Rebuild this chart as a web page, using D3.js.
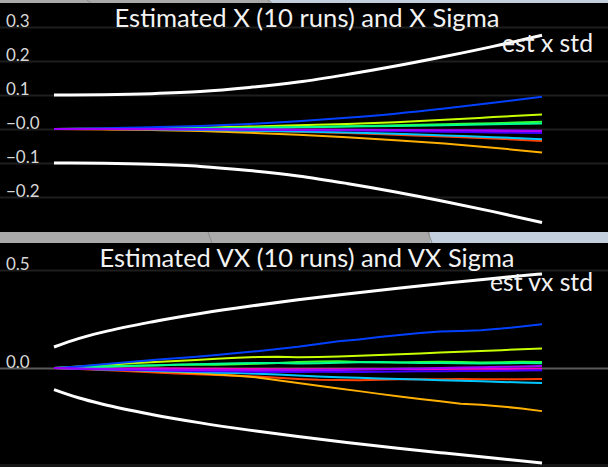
<!DOCTYPE html>
<html><head><meta charset="utf-8">
<script src="https://cdn.jsdelivr.net/npm/d3@7"></script>
<style>html,body{margin:0;padding:0;background:#000;overflow:hidden}</style>
</head><body>
<script>
// ---------- data ----------
const runNames = ["run1","run2","run3","run4","run5","run6","run7","run8","run9","run10"];
const runColors = ["#ff00c0","#ff4000","#ffb000","#c8ff00","#30ff30","#00ff90","#00c8ff","#0040ff","#4000ff","#a000ff"];

const topTimes = [0,1,2,3,4,5,6,7,8,9,10];
const topRuns = [
  [0,0,0,-0.001,-0.001,-0.002,-0.003,-0.004,-0.005,-0.007,-0.008],
  [0,-0.001,-0.002,-0.003,-0.005,-0.008,-0.012,-0.017,-0.022,-0.028,-0.035],
  [0,-0.001,-0.003,-0.006,-0.011,-0.017,-0.024,-0.033,-0.043,-0.055,-0.069],
  [0,0.001,0.002,0.004,0.007,0.011,0.015,0.020,0.027,0.035,0.043],
  [0,0.000,0.001,0.002,0.004,0.006,0.008,0.011,0.014,0.017,0.021],
  [0,0.000,0.001,0.002,0.003,0.005,0.007,0.009,0.011,0.014,0.016],
  [0,0,-0.001,-0.003,-0.005,-0.007,-0.010,-0.014,-0.019,-0.024,-0.030],
  [0,0.002,0.005,0.009,0.015,0.023,0.033,0.045,0.060,0.077,0.095],
  [0,0,-0.001,-0.001,-0.002,-0.003,-0.004,-0.006,-0.008,-0.010,-0.012],
  [0,0,0,-0.001,-0.001,-0.002,-0.002,-0.003,-0.004,-0.004,-0.005]
];
const topSigmaUpper = [0.100,0.101,0.104,0.110,0.122,0.138,0.160,0.185,0.213,0.243,0.276];
const topSigmaLower = [-0.100,-0.101,-0.104,-0.110,-0.122,-0.138,-0.160,-0.185,-0.213,-0.243,-0.275];
const topTicks = [0.3,0.2,0.1,0,-0.1,-0.2];
const topTickLabels = ["0.3","0.2","0.1","\u22120.0","\u22120.1","\u22120.2"];

const botTimes = [0,1,2,3,4,5,6,7,8,9,10,11,12,13,14,15,16,17,18,19,20,21,22,23,24];
const botRuns = [
  [0,-0.001,-0.001,-0.002,-0.002,-0.003,-0.003,-0.004,-0.004,-0.005,-0.005,-0.006,-0.006,-0.006,-0.007,-0.006,-0.005,-0.005,-0.006,-0.005,-0.004,-0.004,-0.005,-0.004,-0.004],
  [0,-0.004,-0.009,-0.013,-0.018,-0.023,-0.028,-0.032,-0.036,-0.040,-0.044,-0.050,-0.056,-0.060,-0.061,-0.062,-0.060,-0.058,-0.057,-0.058,-0.056,-0.057,-0.058,-0.057,-0.056],
  [0,-0.002,-0.005,-0.008,-0.012,-0.016,-0.021,-0.027,-0.033,-0.039,-0.048,-0.062,-0.076,-0.090,-0.104,-0.118,-0.132,-0.146,-0.158,-0.170,-0.182,-0.188,-0.196,-0.207,-0.220],
  [0,0.006,0.013,0.019,0.025,0.030,0.036,0.041,0.047,0.052,0.056,0.057,0.055,0.056,0.059,0.062,0.066,0.070,0.074,0.079,0.083,0.087,0.091,0.096,0.100],
  [0,0.003,0.007,0.010,0.012,0.013,0.016,0.018,0.017,0.019,0.022,0.026,0.030,0.033,0.034,0.031,0.029,0.028,0.030,0.032,0.030,0.028,0.029,0.032,0.031],
  [0,0.002,0.005,0.008,0.011,0.014,0.016,0.019,0.022,0.024,0.026,0.025,0.023,0.024,0.027,0.029,0.030,0.028,0.026,0.025,0.024,0.023,0.024,0.025,0.024],
  [0,-0.003,-0.006,-0.009,-0.012,-0.015,-0.018,-0.021,-0.024,-0.026,-0.029,-0.033,-0.038,-0.043,-0.047,-0.050,-0.053,-0.056,-0.059,-0.062,-0.065,-0.068,-0.071,-0.074,-0.076],
  [0,0.007,0.015,0.024,0.033,0.042,0.050,0.058,0.066,0.076,0.086,0.097,0.108,0.122,0.136,0.146,0.158,0.168,0.178,0.186,0.189,0.193,0.201,0.212,0.223],
  [0,-0.003,-0.006,-0.008,-0.010,-0.012,-0.014,-0.016,-0.017,-0.018,-0.020,-0.021,-0.020,-0.019,-0.020,-0.021,-0.019,-0.018,-0.017,-0.016,-0.015,-0.015,-0.014,-0.013,-0.012],
  [0,-0.002,-0.004,-0.005,-0.007,-0.008,-0.009,-0.010,-0.011,-0.012,-0.013,-0.012,-0.011,-0.010,-0.010,-0.008,-0.006,-0.004,-0.002,0.000,0.002,0.004,0.006,0.008,0.010]
];
const botSigmaTimes = [0,1.2,2.4,4.8,7.2,9.6,12,14.4,16.8,19.2,21.6,24];
const botSigmaUpper = [0.107,0.150,0.183,0.235,0.278,0.315,0.348,0.378,0.406,0.432,0.457,0.480];
const botSigmaLower = [-0.110,-0.152,-0.185,-0.237,-0.280,-0.317,-0.350,-0.380,-0.408,-0.434,-0.459,-0.485];
const botTicks = [0.5,0.0];
const botTickLabels = ["0.5","0.0"];

const titles = ["Estimated X (10 runs) and X Sigma","Estimated VX (10 runs) and VX Sigma"];
const legends = ["est x std","est vx std"];

// ---------- drawing ----------
const W = 608, H = 467;
const svg = d3.select("body").append("svg").attr("width",W).attr("height",H)
  .style("display","block").style("background","#000");

// window chrome strips
function strip(y,h,split,slants){
  svg.append("rect").attr("x",0).attr("y",y).attr("width",W).attr("height",h).attr("fill","#a9a9a9");
  svg.append("rect").attr("x",split).attr("y",y).attr("width",W-split).attr("height",h).attr("fill","#c4cfdd");
  slants.forEach(sx=>{
    svg.append("line").attr("x1",sx).attr("y1",y).attr("x2",sx+4).attr("y2",y+h)
      .attr("stroke","#8a8a8a").attr("stroke-width",1);
  });
}
strip(0,3,270,[87,268]);
strip(232,11,430,[208,428]);
svg.append("rect").attr("x",0).attr("y",464).attr("width",W).attr("height",3).attr("fill","#161616");

const x0 = 54, x1 = 542;

function panel(cfg){
  const g = svg.append("g");
  const y = d3.scaleLinear().domain(cfg.ydom).range(cfg.yrange);
  // grid + labels through an axis
  const axis = d3.axisRight(y).tickValues(cfg.ticks).tickSize(W)
    .tickFormat((d,i)=>cfg.labels[i]);
  const ag = g.append("g").call(axis);
  ag.select(".domain").remove();
  ag.selectAll(".tick line").attr("stroke",(d)=> (cfg.zeroBright && d===0) ? "#5a5a5a" : "#1e1e1e").attr("stroke-width",2);
  ag.selectAll(".tick text").attr("x",6).attr("dy",0).attr("y",-1)
    .attr("text-anchor","start").attr("fill","#d8d8d8")
    .style("font-family","Lato, 'DejaVu Sans', sans-serif").style("font-size","17px");

  const xr = d3.scaleLinear().domain(cfg.xdom).range([x0,x1]);
  const xs = d3.scaleLinear().domain(cfg.sdom).range([x0,x1]);
  const line = d3.line().x((d,i)=>xr(cfg.times[i])).y(d=>y(d)).curve(cfg.curve);
  const sline = d3.line().x((d,i)=>xs(cfg.stimes[i])).y(d=>y(d)).curve(d3.curveMonotoneX);

  g.append("path").datum(cfg.su).attr("d",sline).attr("fill","none").attr("stroke","#fff").attr("stroke-width",3);
  g.append("path").datum(cfg.sl).attr("d",sline).attr("fill","none").attr("stroke","#fff").attr("stroke-width",3);

  cfg.runs.forEach((r,k)=>{
    g.append("path").datum(r).attr("d",line).attr("fill","none")
      .attr("stroke",runColors[k]).attr("stroke-width",2);
  });

  g.append("text").attr("x",307).attr("y",cfg.titleY).attr("text-anchor","middle")
    .attr("fill","#f2f2f2").style("font-family","Lato, 'DejaVu Sans', sans-serif").style("font-size","25px")
    .attr("textLength",cfg.titleLen).attr("lengthAdjust","spacingAndGlyphs").text(cfg.title);
  g.append("text").attr("x",593).attr("y",cfg.legY).attr("text-anchor","end")
    .attr("fill","#f2f2f2").style("font-family","Lato, 'DejaVu Sans', sans-serif").style("font-size","25px")
    .attr("textLength",cfg.legLen).attr("lengthAdjust","spacingAndGlyphs").text(cfg.legend);
}

panel({ydom:[0,0.1], yrange:[129,95], ticks:topTicks, labels:topTickLabels, zeroBright:false,
  xdom:[0,10], times:topTimes, runs:topRuns, curve:d3.curveMonotoneX,
  sdom:[0,10], stimes:topTimes, su:topSigmaUpper, sl:topSigmaLower,
  title:titles[0], titleY:27, titleLen:385, legend:legends[0], legY:52, legLen:91});

panel({ydom:[0,0.5], yrange:[368,270], ticks:botTicks, labels:botTickLabels, zeroBright:true,
  xdom:[0,24], times:botTimes, runs:botRuns, curve:d3.curveLinear,
  sdom:[0,24], stimes:botSigmaTimes, su:botSigmaUpper, sl:botSigmaLower,
  title:titles[1], titleY:267, titleLen:415, legend:legends[1], legY:291, legLen:103});
</script>
</body></html>
